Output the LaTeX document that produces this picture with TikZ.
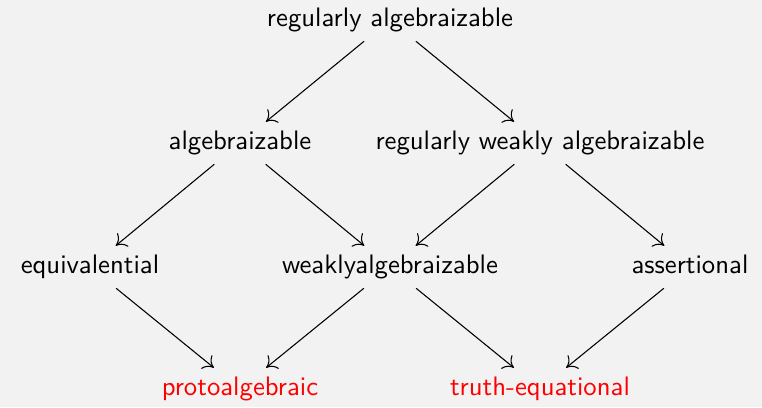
\documentclass[tikz,border=0pt]{standalone}
\usetikzlibrary{arrows.meta}
\definecolor{bg}{HTML}{F2F2F2}
\begin{document}
\begin{tikzpicture}[x=0.374pt,y=-0.374pt,
  lbl/.style={font=\sffamily,text height=1.6ex,text depth=0.45ex},
  hl/.style={lbl,text=red},
  arr/.style={-{To[length=3.6pt,width=6.5pt]},line width=0.4pt}]
\fill[bg] (0,0) rectangle (762,407);
\useasboundingbox (0,0) rectangle (762,407);
\node[lbl] (ra) at (390,20) {regularly algebraizable};
\node[lbl] (a) at (240,143) {algebraizable};
\node[lbl] (rwa) at (540,143) {regularly weakly algebraizable};
\node[lbl] (e) at (90,267) {equivalential};
\node[lbl] (wa) at (390,267) {weaklyalgebraizable};
\node[lbl] (as) at (690,267) {assertional};
\node[hl] (p) at (240,389) {protoalgebraic};
\node[hl] (t) at (540,389) {truth-equational};
\draw[arr] (ra) -- (a);
\draw[arr] (ra) -- (rwa);
\draw[arr] (a) -- (e);
\draw[arr] (a) -- (wa);
\draw[arr] (rwa) -- (wa);
\draw[arr] (rwa) -- (as);
\draw[arr] (e) -- (p);
\draw[arr] (wa) -- (p);
\draw[arr] (wa) -- (t);
\draw[arr] (as) -- (t);
\end{tikzpicture}
\end{document}
